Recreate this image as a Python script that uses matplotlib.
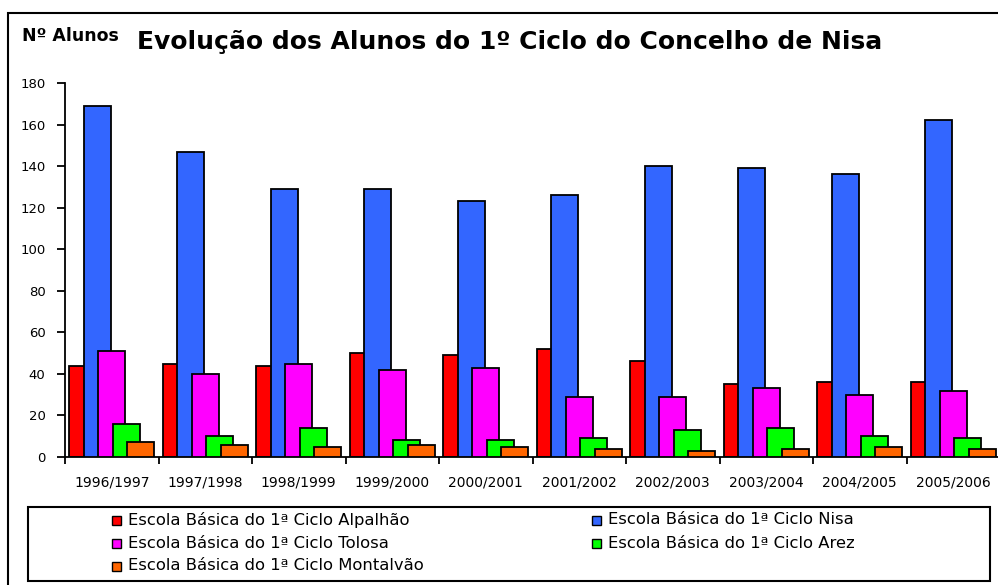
import numpy as np
import matplotlib
matplotlib.use("Agg")
import matplotlib.pyplot as plt
from matplotlib.patches import Rectangle

# school years
anos = ["1996/1997", "1997/1998", "1998/1999", "1999/2000", "2000/2001",
        "2001/2002", "2002/2003", "2003/2004", "2004/2005", "2005/2006"]

# number of pupils per school
alpalhao = [44, 45, 44, 50, 49, 52, 46, 35, 36, 36]
nisa = [169, 147, 129, 129, 123, 126, 140, 139, 136, 162]
tolosa = [51, 40, 45, 42, 43, 29, 29, 33, 30, 32]
arez = [16, 10, 14, 8, 8, 9, 13, 14, 10, 9]
montalvao = [7, 6, 5, 6, 5, 4, 3, 4, 5, 4]

nomes = ["Escola Básica do 1ª Ciclo Alpalhão",
         "Escola Básica do 1ª Ciclo Nisa",
         "Escola Básica do 1ª Ciclo Tolosa",
         "Escola Básica do 1ª Ciclo Arez",
         "Escola Básica do 1ª Ciclo Montalvão"]
cores = ["#FF0000", "#3366FF", "#FF00FF", "#00FF00", "#FF6600"]

W, H = 998, 585
fig = plt.figure(figsize=(W / 100, H / 100), dpi=100)


def fx(px):
    return px / W


def fy(py):
    return 1 - py / H


# outer chart border (cropped at right/bottom like the original)
fig.add_artist(Rectangle((fx(8), -0.1), 1.2, fy(13) + 0.1,
                         transform=fig.transFigure, fill=False,
                         edgecolor="black", linewidth=1.5))

ax = fig.add_axes([fx(65), fy(457), 935 / W, (457 - 83) / H])

series = [alpalhao, nisa, tolosa, arez, montalvao]
x = np.arange(len(anos))
largura = 0.289
passo = 0.155
inicio = 0.5 - (4 * passo + largura) / 2
for i, (vals, cor) in enumerate(zip(series, cores)):
    ax.bar(x + inicio + i * passo, vals, width=largura, align="edge",
           color=cor, edgecolor="black", linewidth=1.3, zorder=2 + i)

ax.set_xlim(0, len(anos))
ax.set_ylim(0, 180)
ax.set_yticks(range(0, 181, 20))
ax.set_xticks(np.arange(len(anos) + 1))
ax.set_xticklabels([])
ax.set_xticks(x + 0.5, minor=True)
ax.set_xticklabels(anos, minor=True)
ax.tick_params(axis="x", which="minor", length=0, pad=13, labelsize=10)
ax.tick_params(axis="x", which="major", length=5, width=1.3, direction="out")
ax.tick_params(axis="y", length=6, width=1.3, labelsize=9.5, pad=8)
for s in ["top", "right"]:
    ax.spines[s].set_visible(False)
for s in ["left", "bottom"]:
    ax.spines[s].set_linewidth(1.3)

fig.text(fx(22), fy(41), "Nº Alunos", fontsize=12.5, fontweight="bold",
         va="baseline", ha="left")
fig.text(fx(137), fy(49), "Evolução dos Alunos do 1º Ciclo do Concelho de Nisa",
         fontsize=18, fontweight="bold", va="baseline", ha="left")

# legend box
fig.add_artist(Rectangle((fx(28), fy(581)), (990 - 28) / W, (581 - 507) / H,
                         transform=fig.transFigure, fill=False,
                         edgecolor="black", linewidth=1.5))
ordem = [0, 2, 4, 1, 3]
for n, k in enumerate(ordem):
    col, row = (0, n) if n < 3 else (1, n - 3)
    mx = 112 if col == 0 else 592
    my = 520 + row * 23
    fig.add_artist(Rectangle((fx(mx), fy(my + 4.5)), 9 / W, 9 / H,
                             transform=fig.transFigure, facecolor=cores[k],
                             edgecolor="black", linewidth=1))
    fig.text(fx(mx + 16), fy(my), nomes[k], fontsize=11.8,
             va="center", ha="left")

fig.savefig("out.png", dpi=100)
